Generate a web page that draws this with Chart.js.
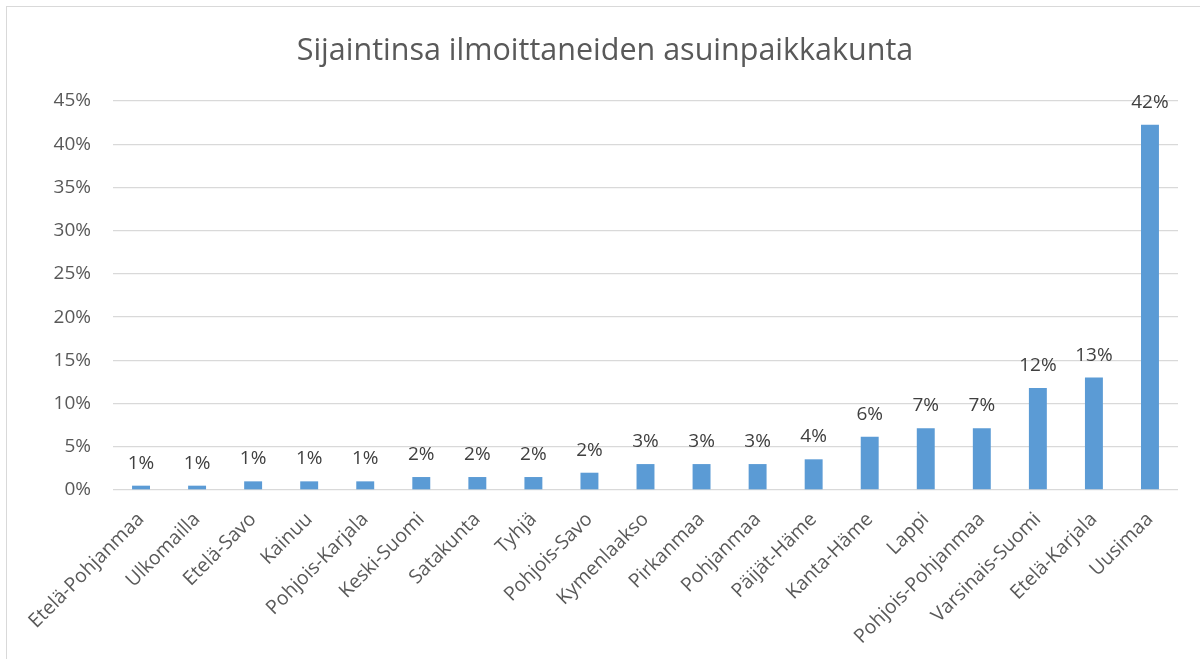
<!DOCTYPE html>
<html>
<head>
<meta charset="utf-8">
<script src="https://cdn.jsdelivr.net/npm/chart.js@4/dist/chart.umd.min.js"></script>
<style>
  html, body { margin: 0; padding: 0; background: #ffffff; }
  #wrap { position: relative; width: 1200px; height: 659px; overflow: hidden; }
  #frame { position: absolute; left: 6px; top: 6px; width: 1300px; height: 800px; border: 1px solid #d9d9d9; pointer-events: none; }
  canvas { position: absolute; left: 0; top: 0; }
</style>
</head>
<body>
<div id="wrap">
  <canvas id="c" width="1200" height="659"></canvas>
  <div id="frame"></div>
</div>
<script>
const chartTitle = 'Sijaintinsa ilmoittaneiden asuinpaikkakunta';
const categories = ['Etelä-Pohjanmaa', 'Ulkomailla', 'Etelä-Savo', 'Kainuu', 'Pohjois-Karjala', 'Keski-Suomi', 'Satakunta', 'Tyhjä', 'Pohjois-Savo', 'Kymenlaakso', 'Pirkanmaa', 'Pohjanmaa', 'Päijät-Häme', 'Kanta-Häme', 'Lappi', 'Pohjois-Pohjanmaa', 'Varsinais-Suomi', 'Etelä-Karjala', 'Uusimaa'];
const values = [0.5, 0.5, 1.0, 1.0, 1.0, 1.5, 1.5, 1.5, 2.0, 3.0, 3.0, 3.0, 3.55, 6.15, 7.15, 7.15, 11.8, 13.0, 42.25];
const valueLabels = ['1%', '1%', '1%', '1%', '1%', '2%', '2%', '2%', '2%', '3%', '3%', '3%', '4%', '6%', '7%', '7%', '12%', '13%', '42%'];
const yMin = 0, yMax = 45, yStep = 5;

const FONT = "'Open Sans', sans-serif";

const dataLabelPlugin = {
  id: 'dataLabelPlugin',
  afterDatasetsDraw(chart) {
    const ctx = chart.ctx;
    const meta = chart.getDatasetMeta(0);
    ctx.save();
    ctx.font = "19px " + FONT;
    ctx.fillStyle = '#404040';
    ctx.textAlign = 'center';
    ctx.textBaseline = 'alphabetic';
    meta.data.forEach((bar, i) => {
      ctx.fillText(valueLabels[i], bar.x, bar.y - 17);
    });
    ctx.restore();
  }
};

new Chart(document.getElementById('c'), {
  type: 'bar',
  data: {
    labels: categories,
    datasets: [{
      data: values,
      backgroundColor: '#5B9BD5',
      borderWidth: 0,
      categoryPercentage: 1.0,
      barPercentage: 0.32
    }]
  },
  options: {
    responsive: false,
    animation: false,
    devicePixelRatio: 1,
    layout: { padding: { left: 32, right: 22, top: 0, bottom: 0 } },
    plugins: {
      legend: { display: false },
      tooltip: { enabled: false },
      title: {
        display: true,
        text: chartTitle,
        color: '#595959',
        font: { family: FONT, size: 30.5, weight: '400' },
        padding: { top: 33, bottom: 31.4 }
      }
    },
    scales: {
      x: {
        grid: { display: false },
        border: { display: false },
        ticks: {
          color: '#595959',
          font: { family: FONT, size: 19.5 },
          minRotation: 45,
          maxRotation: 45,
          autoSkip: false,
          padding: 10
        },
        afterFit(scale) { scale.height = 169; }
      },
      y: {
        min: yMin,
        max: yMax,
        grid: { color: '#d9d9d9', lineWidth: 1.3, drawTicks: false },
        border: { display: false },
        ticks: {
          stepSize: yStep,
          color: '#595959',
          font: { family: FONT, size: 19 },
          padding: 22,
          callback: v => v + '%'
        },
        afterFit(scale) { scale.width = 81; }
      }
    }
  },
  plugins: [dataLabelPlugin]
});
</script>
</body>
</html>
